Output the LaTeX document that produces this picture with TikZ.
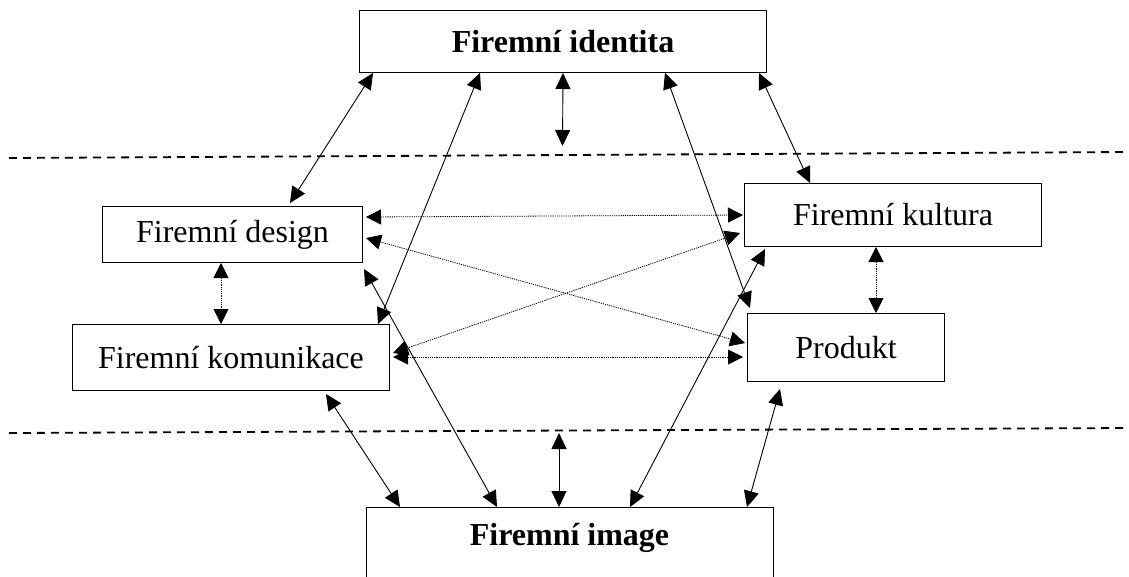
\documentclass[tikz,border=0pt]{standalone}
\usepackage{fontspec}
\setmainfont{Liberation Serif}
\usetikzlibrary{arrows.meta}
\begin{document}
\begin{tikzpicture}[x=1pt,y=-1pt,
  box/.style={draw, line width=1pt, inner sep=0pt, anchor=north west, font=\fontsize{32}{38}\selectfont},
  boldbox/.style={box, font=\fontsize{32}{38}\selectfont\bfseries},
  link/.style={line width=0.9pt, {Triangle[length=16pt,width=15pt]}-{Triangle[length=16pt,width=15pt]}},
  dlink/.style={line width=0.8pt, dash pattern=on 1.2pt off 1pt, {Triangle[length=15pt,width=15pt]}-{Triangle[length=15pt,width=15pt]}},
  sep/.style={line width=1.8pt, dash pattern=on 8pt off 6pt}]
\useasboundingbox (0,0) rectangle (1129,576);
\clip (0,0) rectangle (1129,576);
% separators
\draw[sep] (9,158) -- (1127,152);
\draw[sep] (9,433) -- (1127,428);
% nodes
\node[boldbox, minimum width=407pt, minimum height=62pt] (identita) at (359,10) {Firemní identita};
\node[box, minimum width=260pt, minimum height=56pt] (design) at (102,206) {Firemní design};
\node[box, minimum width=317pt, minimum height=66pt] (komunikace) at (72,324) {Firemní komunikace};
\node[box, minimum width=297pt, minimum height=63pt] (kultura) at (744,183) {Firemní kultura};
\node[box, minimum width=197pt, minimum height=68pt] (produkt) at (747,313) {Produkt};
\node[box, minimum width=407pt, minimum height=100pt] (image) at (366,507) {};
\node[font=\fontsize{32}{38}\selectfont\bfseries, inner sep=0pt] (imagetext) at (569.5,538) {Firemní image};
\coordinate (topsep) at (562.5,146);
\coordinate (botsep) at (559,433);
% solid connectors
\draw[link] ([xshift=14pt]identita.south west) -- ([xshift=188pt,yshift=3pt]design.north west);
\draw[link] ([xshift=121pt]identita.south west) -- ([xshift=306pt]komunikace.north west);
\draw[link] (identita.south) -- (topsep);
\draw[link] ([xshift=306pt]identita.south west) -- ([xshift=3pt,yshift=5pt]produkt.north west);
\draw[link] ([xshift=-8pt]identita.south east) -- ([xshift=66pt]kultura.north west);
\draw[link] ([xshift=-64pt,yshift=-3pt]komunikace.south east) -- ([xshift=34pt]image.north west);
\draw[link] ([xshift=1pt,yshift=-6pt]design.south east) -- ([xshift=131pt]image.north west);
\draw[link] (botsep) -- ([xshift=193pt]image.north west);
\draw[link] ([xshift=21pt,yshift=-2pt]kultura.south west) -- ([xshift=264pt]image.north west);
\draw[link] ([xshift=33pt,yshift=-7pt]produkt.south west) -- ([xshift=381pt]image.north west);
% dotted connectors
\draw[dlink] ([xshift=3pt,yshift=-11pt]design.north east) -- ([xshift=-1pt,yshift=-32pt]kultura.north west);
\draw[dlink] ([xshift=3pt,yshift=-32pt]design.north east) -- ([xshift=-2pt,yshift=-30pt]produkt.north west);
\draw[dlink] ([xshift=3pt,yshift=-29pt]komunikace.north east) -- ([xshift=-4pt,yshift=-50pt]kultura.north west);
\draw[dlink] ([xshift=3pt,yshift=-33pt]komunikace.north east) -- ([xshift=-4pt,yshift=-44pt]produkt.north west);
\draw[dlink] ([xshift=119pt]design.south west) -- ([xshift=149pt]komunikace.north west);
\draw[dlink] ([xshift=132pt]kultura.south west) -- ([xshift=129pt]produkt.north west);
\end{tikzpicture}
\end{document}
